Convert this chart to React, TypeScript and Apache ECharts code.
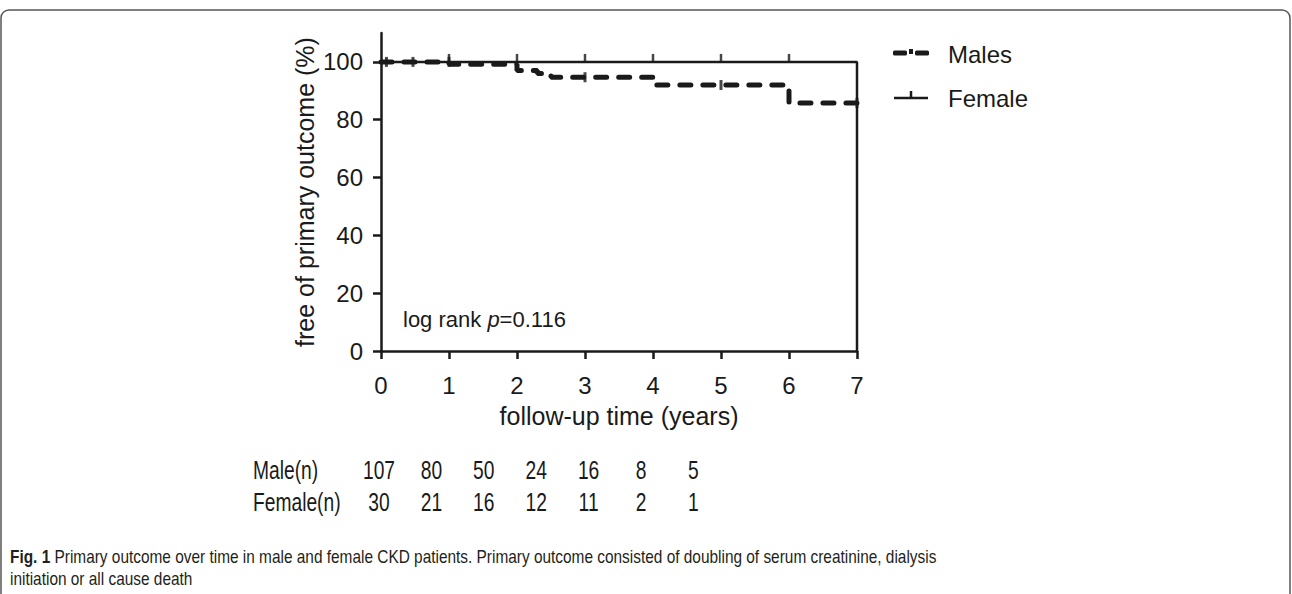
import React, { useEffect, useRef } from "react";
import * as echarts from "echarts";

// Kaplan–Meier step data (time in years, % free of primary outcome)
const maleTimes = [0, 1, 2, 2.3, 2.5, 4, 6, 7];
const maleSurv = [100, 99.2, 97, 96, 94.7, 92, 85.8, 85.8];
const femaleTimes = [0, 7, 7];
const femaleSurv = [100, 100, 0];

// censoring marks
const maleCensorTimes = [0.08, 0.47, 1.0, 3.0, 5.0, 7.0];
const maleCensorSurv = [100, 100, 100, 94.7, 92, 85.8];
const femaleCensorTimes = [1, 2, 3, 4, 5, 6];
const femaleCensorSurv = [100, 100, 100, 100, 100, 100];

const xTicks = [0, 1, 2, 3, 4, 5, 6, 7];
const yTicks = [0, 20, 40, 60, 80, 100];

// numbers at risk
const riskLabels = ["Male(n)", "Female(n)"];
const maleAtRisk = [107, 80, 50, 24, 16, 8, 5];
const femaleAtRisk = [30, 21, 16, 12, 11, 2, 1];

const seriesNames = ["Males", "Female"];
const pValueText = "0.116";
const captionBold = "Fig. 1";
const captionLine1 =
  " Primary outcome over time in male and female CKD patients. Primary outcome consisted of doubling of serum creatinine, dialysis";
const captionLine2 = "initiation or all cause death";

const INK = "#1a1a1a";
const FONT = "Liberation Sans, Arial, sans-serif";

export default function App() {
  const ref = useRef<HTMLDivElement>(null);
  useEffect(() => {
    if (!ref.current) return;
    const chart = echarts.init(ref.current, undefined, { renderer: "svg" });
    const zip = (a: number[], b: number[]) => a.map((v, i) => [v, b[i]]);

    const riskRows: any[] = [];
    [maleAtRisk, femaleAtRisk].forEach((row, r) => {
      const y = 470 + r * 32;
      riskRows.push({
        type: "text",
        x: 253,
        y,
        scaleX: 0.74,
        style: {
          text: riskLabels[r],
          font: `26px ${FONT}`,
          fill: INK,
          textAlign: "left",
          textVerticalAlign: "middle",
        },
      });
      row.forEach((v, i) => {
        riskRows.push({
          type: "text",
          x: 379 + i * 52.4,
          y,
          scaleX: 0.74,
          style: {
            text: String(v),
            font: `26px ${FONT}`,
            fill: INK,
            textAlign: "center",
            textVerticalAlign: "middle",
          },
        });
      });
    });

    chart.setOption({
      animation: false,
      backgroundColor: "#ffffff",
      grid: { left: 381, top: 33, width: 476, height: 318, containLabel: false },
      xAxis: {
        type: "value",
        min: 0,
        max: 7,
        interval: 1,
        name: "follow-up time (years)",
        nameLocation: "middle",
        nameGap: 52,
        nameTextStyle: { fontSize: 25, color: INK, fontFamily: FONT },
        axisLine: { show: true, lineStyle: { color: INK, width: 2.5 } },
        axisTick: { show: true, length: 8, lineStyle: { color: INK, width: 2.5 } },
        axisLabel: {
          margin: 22,
          fontSize: 24,
          color: INK,
          fontFamily: FONT,
          formatter: (v: number) => (xTicks.includes(v) ? String(v) : ""),
        },
        splitLine: { show: false },
      },
      yAxis: {
        type: "value",
        min: 0,
        max: 110,
        name: "free of primary outcome (%)",
        nameLocation: "middle",
        nameGap: 64,
        nameTextStyle: { fontSize: 25, color: INK, fontFamily: FONT },
        axisLine: { show: true, lineStyle: { color: INK, width: 2.5 } },
        axisTick: {
          show: true,
          length: 8,
          customValues: yTicks,
          lineStyle: { color: INK, width: 2.5 },
        },
        axisLabel: {
          margin: 18,
          fontSize: 24,
          color: INK,
          fontFamily: FONT,
          customValues: yTicks,
        },
        splitLine: { show: false },
      },
      series: [
        {
          name: seriesNames[1],
          type: "line",
          step: "end",
          data: zip(femaleTimes, femaleSurv),
          symbol: "none",
          lineStyle: { color: INK, width: 2.5 },
          z: 2,
        },
        {
          name: seriesNames[1] + " censored",
          type: "scatter",
          data: zip(femaleCensorTimes, femaleCensorSurv),
          symbol: "rect",
          symbolSize: [2.5, 8],
          symbolOffset: [0, -4],
          itemStyle: { color: INK },
          z: 2,
        },
        {
          name: seriesNames[0],
          type: "line",
          step: "end",
          data: zip(maleTimes, maleSurv),
          symbol: "none",
          lineStyle: { color: INK, width: 5, type: [11, 12], cap: "round" },
          z: 3,
        },
        {
          name: seriesNames[0] + " censored",
          type: "scatter",
          data: zip(maleCensorTimes, maleCensorSurv),
          symbol: "rect",
          symbolSize: [3, 10],
          itemStyle: { color: INK },
          z: 3,
        },
      ],
      graphic: [
        // figure frame
        {
          type: "rect",
          shape: { x: 1, y: 10, width: 1289, height: 600, r: 8 },
          style: { fill: "none", stroke: "#555", lineWidth: 1.5 },
          silent: true,
        },
        // legend
        { type: "rect", shape: { x: 893, y: 50.5, width: 14, height: 5, r: 1.5 }, style: { fill: INK } },
        { type: "rect", shape: { x: 909, y: 49, width: 4, height: 5 }, style: { fill: INK } },
        { type: "rect", shape: { x: 915, y: 50.5, width: 14, height: 5, r: 1.5 }, style: { fill: INK } },
        {
          type: "text",
          x: 948,
          y: 54,
          style: { text: seriesNames[0], font: `24px ${FONT}`, fill: INK, textVerticalAlign: "middle" },
        },
        { type: "line", shape: { x1: 894, y1: 98, x2: 928, y2: 98 }, style: { stroke: INK, lineWidth: 2.5 } },
        { type: "line", shape: { x1: 911, y1: 91, x2: 911, y2: 98 }, style: { stroke: INK, lineWidth: 2.5 } },
        {
          type: "text",
          x: 948,
          y: 98,
          style: { text: seriesNames[1], font: `24px ${FONT}`, fill: INK, textVerticalAlign: "middle" },
        },
        // log rank annotation
        {
          type: "text",
          x: 403,
          y: 319,
          style: {
            text: `log rank {i|p}=${pValueText}`,
            font: `22px ${FONT}`,
            fill: INK,
            textVerticalAlign: "middle",
            rich: { i: { fontStyle: "italic", fontSize: 22, fontFamily: FONT, fill: INK } },
          },
        },
        ...riskRows,
        // caption
        {
          type: "text",
          x: 10,
          y: 557,
          scaleX: 0.856,
          style: {
            text: `{b|${captionBold}}${captionLine1}`,
            font: `18px ${FONT}`,
            fill: "#231f20",
            textVerticalAlign: "middle",
            rich: { b: { fontWeight: "bold", fontSize: 18, fontFamily: FONT, fill: "#231f20" } },
          },
        },
        {
          type: "text",
          x: 10,
          y: 579,
          scaleX: 0.856,
          style: {
            text: captionLine2,
            font: `18px ${FONT}`,
            fill: "#231f20",
            textVerticalAlign: "middle",
          },
        },
      ],
    });
    return () => chart.dispose();
  }, []);
  return (
    <div
      ref={ref}
      style={{ position: "absolute", left: 0, top: 0, width: 1292, height: 594 }}
    />
  );
}
